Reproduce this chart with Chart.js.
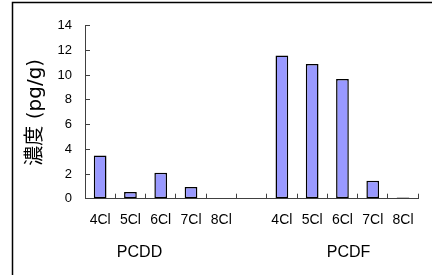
<!DOCTYPE html>
<html><head><meta charset="utf-8">
<script src="https://cdn.jsdelivr.net/npm/chart.js@4"></script>
<style>html,body{margin:0;padding:0;background:#fff;}#wrap{width:432px;height:275px;position:relative;}</style>
</head><body><div id="wrap"><canvas id="c" width="432" height="275"></canvas></div>
<script>
const categories = ['4Cl','5Cl','6Cl','7Cl','8Cl','','4Cl','5Cl','6Cl','7Cl','8Cl'];
const concentrations = [3.5, 0.55, 2.1, 0.95, 0, null, 11.6, 10.9, 9.7, 1.45, 0.1];
const groupLabels = ['PCDD', 'PCDF'];
const groupCenters = [1.3, 8.2];
const yTicks = [0, 2, 4, 6, 8, 10, 12, 14];
const yTitle = '濃度 (pg/g)';

const framePlugin = {
  id: 'frame',
  afterDraw(chart) {
    const ctx = chart.ctx;
    ctx.save();
    ctx.strokeStyle = '#000';
    ctx.lineWidth = 1.5;
    ctx.beginPath();
    ctx.moveTo(12.5, 275);
    ctx.lineTo(12.5, 2.5);
    ctx.lineTo(432, 2.5);
    ctx.stroke();
    ctx.restore();
  }
};

new Chart(document.getElementById('c'), {
  type: 'bar',
  data: {
    labels: categories,
    datasets: [{
      data: concentrations,
      backgroundColor: '#9999FF',
      borderColor: '#000',
      borderWidth: 1.5,
      borderSkipped: false,
      barPercentage: 0.42,
      categoryPercentage: 1
    }]
  },
  options: {
    responsive: false,
    animation: false,
    devicePixelRatio: 1,
    layout: { padding: { top: 21.5, right: 10.3, bottom: 0, left: 0 } },
    plugins: { legend: { display: false }, tooltip: { enabled: false } },
    scales: {
      x: {
        type: 'category',
        offset: true,
        weight: 0,
        grid: { offset: true, drawOnChartArea: false, tickLength: -5, color: '#404040' },
        border: { display: true, color: '#404040', width: 1 },
        ticks: { font: { family: "'Liberation Sans', sans-serif", size: 14 }, color: '#000', padding: 18, maxRotation: 0, autoSkip: false },
        afterFit: s => { s.height = 36; }
      },
      x2: {
        type: 'linear',
        position: 'bottom',
        weight: 1,
        offset: false,
        min: -0.5,
        max: 10.5,
        afterBuildTicks: s => { s.ticks = groupCenters.map(v => ({ value: v })); },
        grid: { display: false, drawTicks: false, offset: false },
        border: { display: false },
        ticks: {
          callback: v => groupLabels[groupCenters.indexOf(v)],
          font: { family: "'Liberation Sans', sans-serif", size: 16 },
          color: '#000', padding: 8.5, maxRotation: 0, autoSkip: false
        },
        afterFit: s => { s.height = 40.3; }
      },
      y: {
        min: 0,
        max: 14,
        afterBuildTicks: s => { s.ticks = yTicks.map(v => ({ value: v })); },
        grid: { drawOnChartArea: false, tickLength: -5, color: '#404040' },
        border: { display: true, color: '#404040', width: 1 },
        ticks: { font: { family: "'Liberation Sans', sans-serif", size: 13 }, color: '#000', padding: 18 },
        title: { display: true, text: yTitle, font: { family: "'DejaVu Sans', 'Noto Sans CJK JP', sans-serif", size: 20 }, color: '#000', padding: { top: 24, bottom: 0 } },
        afterFit: s => { s.width = 85; }
      }
    }
  },
  plugins: [framePlugin]
});
</script>
</body></html>
